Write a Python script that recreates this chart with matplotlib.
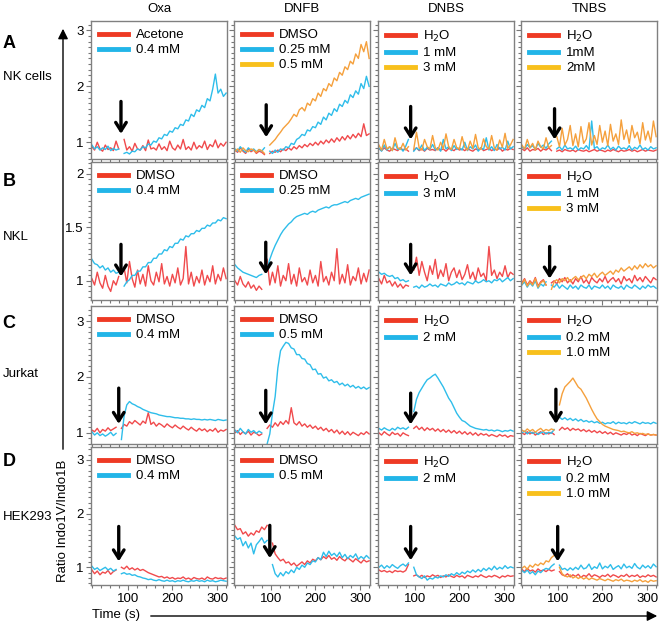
import numpy as np
import matplotlib
matplotlib.use("Agg")
import matplotlib.pyplot as plt
from matplotlib.lines import Line2D
from matplotlib.patches import FancyArrowPatch
from matplotlib.ticker import MultipleLocator

plt.rcParams["font.family"] = ["Liberation Sans", "DejaVu Sans"]

nan = np.nan

# ── labels ────────────────────────────────────────────────────────────────────
compounds = ["Oxa", "DNFB", "DNBS", "TNBS"]
row_letters = ["A", "B", "C", "D"]
cell_lines = ["NK cells", "NKL", "Jurkat", "HEK293"]

legend_labels = [
    [["Acetone", "0.4 mM"], ["DMSO", "0.25 mM", "0.5 mM"],
     ["H$_2$O", "1 mM", "3 mM"], ["H$_2$O", "1mM", "2mM"]],
    [["DMSO", "0.4 mM"], ["DMSO", "0.25 mM"],
     ["H$_2$O", "3 mM"], ["H$_2$O", "1 mM", "3 mM"]],
    [["DMSO", "0.4 mM"], ["DMSO", "0.5 mM"],
     ["H$_2$O", "2 mM"], ["H$_2$O", "0.2 mM", "1.0 mM"]],
    [["DMSO", "0.4 mM"], ["DMSO", "0.5 mM"],
     ["H$_2$O", "2 mM"], ["H$_2$O", "0.2 mM", "1.0 mM"]],
]

# time axis of every trace (s), samples spread evenly over it
T_START, T_END = 20, 320

# ── A : NK cells ──────────────────────────────────────────────────────────────
a_oxa_red = [0.92, 0.86, 1.00, 0.88, 0.84, 0.95, 0.87, 0.90, 0.85, 1.02,
             0.88, nan, 1.05, 0.86, 0.92, 0.84, 0.98, 0.88, 0.86, 0.94,
             0.85, 1.04, 0.88, 0.90, 0.86, 0.97, 0.87, 0.92, 0.85, 1.02,
             0.90, 0.86, 0.95, 0.88, 1.05, 0.87, 0.92, 0.86, 1.00, 0.88,
             0.94, 0.90, 1.02, 0.87, 0.96, 0.92, 1.04, 0.90, 0.98, 0.93, 1.00]
a_oxa_blue = [0.95, 0.88, 0.92, 0.86, 0.90, 0.87, 0.93, 0.85, 0.89, 0.86,
              0.88, nan, 0.80, 0.82, 0.79, 0.84, 0.83, 0.88, 0.86, 0.92,
              0.90, 0.97, 0.95, 1.02, 1.00, 1.08, 1.06, 1.14, 1.12, 1.20,
              1.18, 1.26, 1.24, 1.32, 1.30, 1.40, 1.38, 1.50, 1.46, 1.58,
              1.55, 1.66, 1.62, 1.78, 1.74, 1.95, 2.22, 1.88, 1.95, 1.82, 1.88]

a_dnfb_red = [0.86, 0.82, 0.90, 0.84, 0.80, 0.88, 0.83, 0.86, 0.80, 0.84,
              0.82, 0.78, nan, 0.80, 0.84, 0.82, 0.86, 0.83, 0.88, 0.85,
              0.90, 0.86, 0.92, 0.88, 0.94, 0.90, 0.96, 0.92, 0.98, 0.94,
              1.00, 0.95, 1.02, 0.97, 1.04, 0.99, 1.06, 1.00, 1.08, 1.02,
              1.10, 1.04, 1.12, 1.06, 1.14, 1.08, 1.16, 1.10, 1.33, 1.12, 1.15]
a_dnfb_blue = [0.88, 0.84, 0.92, 0.86, 0.82, 0.90, 0.85, 0.88, 0.83, 0.87,
               0.84, 0.90, nan, 0.84, 0.80, 0.86, 0.82, 0.88, 0.86, 0.92,
               0.90, 0.98, 0.96, 1.05, 1.08, 1.14, 1.12, 1.22, 1.20, 1.28,
               1.26, 1.36, 1.32, 1.45, 1.40, 1.52, 1.48, 1.60, 1.55, 1.68,
               1.64, 1.75, 1.70, 1.85, 1.80, 1.92, 1.86, 2.05, 1.96, 2.18, 2.00]
a_dnfb_orange = [0.84, 0.88, 0.82, 0.90, 0.85, 0.83, 0.88, 0.86, 0.82, 0.87,
                 0.85, 0.80, nan, 0.95, 1.00, 1.05, 1.12, 1.18, 1.25, 1.30,
                 1.35, 1.42, 1.50, 1.46, 1.58, 1.62, 1.56, 1.70, 1.66, 1.78,
                 1.74, 1.88, 1.82, 1.96, 1.92, 2.05, 2.00, 2.15, 2.10, 2.25,
                 2.20, 2.35, 2.30, 2.45, 2.40, 2.58, 2.50, 2.75, 2.62, 2.80, 2.50]

a_dnbs_red = [0.88, 0.85, 0.90, 0.86, 0.84, 0.89, 0.87, 0.85, 0.90, 0.86,
              0.88, 0.84, nan, 0.86, 0.90, 0.85, 0.88, 0.84, 0.89, 0.86,
              0.87, 0.85, 0.90, 0.86, 0.88, 0.84, 0.89, 0.87, 0.85, 0.90,
              0.86, 0.88, 0.85, 0.89, 0.86, 0.84, 0.88, 0.86, 0.90, 0.85,
              0.87, 0.89, 0.85, 0.88, 0.86, 0.90, 0.84, 0.88, 0.86, 0.89, 0.87]
a_dnbs_blue = [0.90, 0.84, 0.95, 0.86, 0.92, 0.85, 0.98, 0.87, 0.90, 0.84,
               0.93, 1.05, nan, 0.84, 0.90, 0.86, 0.95, 0.85, 0.91, 0.87,
               0.96, 0.86, 0.90, 0.84, 1.05, 0.88, 0.92, 0.85, 0.94, 0.87,
               0.90, 0.86, 1.00, 0.85, 0.92, 0.88, 0.95, 0.84, 0.90, 0.87,
               1.08, 0.86, 0.92, 0.85, 0.96, 0.88, 0.91, 0.86, 1.02, 0.88, 0.92]
a_dnbs_orange = [0.95, 0.86, 1.05, 0.88, 0.92, 0.85, 1.08, 0.90, 0.87, 0.98,
                 0.86, 0.92, nan, 0.88, 1.18, 0.90, 0.86, 1.05, 0.92, 0.88,
                 1.12, 0.90, 0.86, 1.00, 0.88, 1.15, 0.92, 0.87, 1.05, 0.90,
                 0.88, 1.10, 0.91, 0.86, 1.02, 0.89, 1.14, 0.90, 0.87, 1.06,
                 0.92, 0.88, 1.12, 0.90, 0.86, 1.04, 0.91, 1.16, 0.89, 0.95, 1.05]

a_tnbs_red = [0.88, 0.85, 0.90, 0.84, 0.87, 0.86, 0.89, 0.84, 0.88, 0.86,
              0.90, 0.85, nan, 0.84, 0.86, 0.83, 0.87, 0.85, 0.84, 0.86,
              0.83, 0.87, 0.85, 0.84, 0.86, 0.83, 0.85, 0.87, 0.84, 0.86,
              0.85, 0.83, 0.86, 0.84, 0.87, 0.85, 0.83, 0.86, 0.84, 0.85,
              0.87, 0.84, 0.86, 0.83, 0.85, 0.87, 0.84, 0.86, 0.85, 0.84, 0.86]
a_tnbs_blue = [0.92, 0.88, 0.96, 0.90, 0.94, 0.87, 0.98, 0.91, 0.95, 0.89,
               0.97, 1.02, nan, 0.88, 0.92, 0.86, 0.95, 0.88, 0.90, 0.87,
               0.93, 0.86, 0.90, 0.88, 0.94, 0.87, 1.38, 0.89, 0.92, 0.86,
               0.90, 0.88, 0.95, 0.87, 0.91, 0.86, 0.93, 0.88, 0.90, 0.87,
               0.94, 0.86, 0.91, 0.88, 0.95, 0.87, 0.90, 0.86, 0.92, 0.88, 0.90]
a_tnbs_orange = [0.95, 0.88, 1.05, 0.90, 0.98, 0.86, 1.02, 0.92, 0.88, 1.08,
                 0.90, 0.94, nan, 1.10, 0.92, 1.25, 0.95, 1.05, 1.30, 0.94,
                 1.15, 0.92, 1.28, 0.98, 1.06, 1.35, 0.95, 1.12, 0.96, 1.30,
                 1.00, 1.20, 0.94, 1.32, 1.02, 1.15, 0.96, 1.40, 1.05, 1.22,
                 0.98, 1.30, 1.08, 1.18, 0.97, 1.35, 1.04, 1.20, 1.00, 1.38, 1.10]

# ── B : NKL ───────────────────────────────────────────────────────────────────
b_oxa_red = [1.02, 0.96, 1.08, 0.98, 0.93, 1.05, 0.95, 0.90, 1.00, 0.96,
             1.04, nan, 1.12, 0.98, 1.18, 1.02, 0.94, 1.10, 0.97, 1.06,
             0.95, 1.14, 1.00, 0.96, 1.08, 0.99, 1.16, 0.97, 1.04, 0.95,
             1.06, 0.98, 1.12, 0.96, 1.02, 1.32, 0.97, 1.08, 0.95, 1.04,
             0.98, 1.10, 0.96, 1.05, 0.99, 1.14, 0.97, 1.06, 1.00, 1.12, 1.02]
b_oxa_blue = [1.20, 1.16, 1.15, 1.12, 1.14, 1.10, 1.12, 1.08, 1.10, 1.07,
              1.08, nan, 0.95, 0.99, 1.01, 1.05, 1.05, 1.09, 1.09, 1.13,
              1.13, 1.17, 1.17, 1.21, 1.21, 1.25, 1.25, 1.29, 1.28, 1.32,
              1.31, 1.35, 1.35, 1.39, 1.38, 1.42, 1.41, 1.44, 1.44, 1.47,
              1.46, 1.49, 1.49, 1.52, 1.51, 1.54, 1.54, 1.57, 1.56, 1.59, 1.58]

b_dnfb_red = [1.00, 0.96, 1.04, 0.97, 0.94, 0.99, 0.93, 0.96, 0.91, 0.95,
              0.92, nan, 1.20, 0.96, 1.08, 0.98, 1.14, 0.95, 1.05, 1.00,
              1.16, 0.97, 1.06, 0.95, 1.12, 0.99, 1.03, 0.96, 1.10, 0.98,
              1.05, 0.95, 1.18, 0.99, 1.04, 0.96, 1.08, 1.00, 1.30, 0.97,
              1.06, 0.98, 1.15, 0.96, 1.04, 1.00, 1.12, 0.97, 1.07, 0.99, 1.10]
b_dnfb_blue = [1.15, 1.12, 1.10, 1.08, 1.07, 1.06, 1.05, 1.04, 1.03, 1.05,
               1.06, nan, 1.12, 1.20, 1.27, 1.33, 1.38, 1.43, 1.47, 1.50,
               1.53, 1.55, 1.58, 1.60, 1.61, 1.62, 1.63, 1.62, 1.64, 1.65,
               1.64, 1.66, 1.67, 1.68, 1.69, 1.68, 1.70, 1.71, 1.71, 1.72,
               1.73, 1.74, 1.73, 1.75, 1.76, 1.77, 1.76, 1.78, 1.79, 1.80, 1.81]

b_dnbs_red = [1.02, 0.97, 1.05, 0.98, 1.00, 0.95, 0.99, 0.94, 0.97, 0.93,
              0.96, 0.95, nan, 1.10, 1.22, 1.05, 1.18, 1.08, 1.00, 1.14,
              1.06, 1.20, 1.02, 1.10, 1.04, 1.16, 1.00, 1.08, 1.12, 1.03,
              1.10, 1.01, 1.06, 1.15, 1.02, 1.08, 1.00, 1.12, 1.04, 1.07,
              1.00, 1.32, 1.05, 1.10, 1.02, 1.08, 1.04, 1.14, 1.03, 1.08, 1.06]
b_dnbs_blue = [1.08, 1.06, 1.07, 1.05, 1.04, 1.05, 1.02, 1.03, 1.00, 1.01,
               0.99, 1.00, nan, 0.94, 0.95, 0.93, 0.96, 0.94, 0.95, 0.97,
               0.95, 0.96, 0.94, 0.97, 0.96, 0.95, 0.98, 0.96, 0.97, 0.99,
               0.97, 0.98, 0.96, 0.99, 0.98, 0.97, 1.00, 0.98, 0.99, 1.01,
               0.99, 1.00, 0.98, 1.01, 1.00, 1.02, 0.99, 1.01, 1.03, 1.00, 1.02]

b_tnbs_red = [0.98, 1.02, 0.96, 1.00, 0.97, 1.03, 0.95, 0.99, 1.01, 0.96,
              nan, 0.98, 1.00, 0.97, 1.02, 0.99, 1.03, 0.98, 1.01, 0.97,
              1.02, 0.99, 1.04, 0.98, 1.01, 0.97, 1.03, 1.00, 0.98, 1.02,
              0.99, 1.04, 0.98, 1.01, 1.03, 0.99, 1.02, 0.97, 1.04, 1.00,
              1.02, 0.98, 1.05, 1.00, 1.03, 0.99, 1.04, 1.01, 0.98, 1.03, 1.01]
b_tnbs_blue = [0.96, 0.99, 0.94, 0.98, 0.95, 1.00, 0.93, 0.97, 0.95, 0.99,
               nan, 0.96, 0.94, 0.97, 0.93, 0.96, 0.94, 0.92, 0.96, 0.93,
               0.95, 0.92, 0.96, 0.94, 0.93, 0.96, 0.92, 0.95, 0.94, 0.93,
               0.96, 0.93, 0.95, 0.92, 0.96, 0.94, 0.93, 0.95, 0.92, 0.96,
               0.94, 0.93, 0.96, 0.94, 0.92, 0.95, 0.93, 0.96, 0.94, 0.95, 0.93]
b_tnbs_orange = [0.97, 1.01, 0.95, 0.99, 0.96, 1.02, 0.94, 0.98, 1.00, 0.96,
                 nan, 0.92, 0.99, 1.01, 0.98, 1.02, 1.00, 1.03, 0.99, 1.02,
                 1.04, 1.01, 1.03, 1.05, 1.02, 1.06, 1.04, 1.07, 1.03, 1.06,
                 1.08, 1.05, 1.07, 1.09, 1.06, 1.10, 1.08, 1.12, 1.09, 1.11,
                 1.13, 1.10, 1.14, 1.11, 1.15, 1.12, 1.16, 1.13, 1.15, 1.12, 1.14]

# ── C : Jurkat ────────────────────────────────────────────────────────────────
c_oxa_red = [1.05, 1.02, 1.08, 1.00, 1.06, 1.03, 1.09, 1.04, 1.07, 1.10,
             nan, 1.08, 1.15, 1.12, 1.20, 1.16, 1.22, 1.18, 1.14, 1.21,
             1.17, 1.36, 1.15, 1.19, 1.12, 1.17, 1.14, 1.10, 1.16, 1.12,
             1.09, 1.14, 1.10, 1.07, 1.12, 1.08, 1.05, 1.10, 1.06, 1.03,
             1.08, 1.04, 1.07, 1.02, 1.06, 1.03, 1.08, 1.01, 1.05, 1.03, 1.06]
c_oxa_blue = [1.02, 0.96, 1.00, 0.95, 0.98, 0.94, 0.97, 1.01, 0.95, 0.99,
              nan, 0.88, 1.30, 1.50, 1.56, 1.52, 1.50, 1.47, 1.45, 1.42,
              1.40, 1.38, 1.36, 1.35, 1.34, 1.32, 1.31, 1.30, 1.29, 1.29,
              1.28, 1.27, 1.27, 1.26, 1.26, 1.25, 1.25, 1.24, 1.25, 1.24,
              1.24, 1.23, 1.24, 1.23, 1.24, 1.23, 1.22, 1.24, 1.23, 1.22, 1.23]

c_dnfb_red = [1.00, 1.04, 0.97, 1.02, 0.98, 1.03, 0.96, 1.01, 0.99, 0.95,
              0.98, nan, 1.08, 1.14, 1.10, 1.18, 1.12, 1.20, 1.15, 1.22,
              1.16, 1.45, 1.18, 1.14, 1.20, 1.12, 1.16, 1.10, 1.14, 1.08,
              1.12, 1.06, 1.10, 1.04, 1.08, 1.02, 1.06, 1.00, 1.05, 0.98,
              1.03, 0.97, 1.02, 0.96, 1.01, 0.98, 0.95, 1.00, 0.97, 1.02, 0.98]
c_dnfb_blue = [1.05, 1.00, 1.08, 1.02, 0.98, 1.06, 1.01, 1.04, 0.99, 1.03,
               1.00, nan, 0.80, 0.98, 1.35, 1.65, 2.16, 2.47, 2.55, 2.62,
               2.60, 2.52, 2.50, 2.40, 2.40, 2.33, 2.32, 2.24, 2.22, 2.13,
               2.14, 2.05, 2.06, 1.98, 2.00, 1.93, 1.95, 1.90, 1.92, 1.86,
               1.89, 1.84, 1.87, 1.82, 1.85, 1.80, 1.83, 1.79, 1.82, 1.78, 1.81]

c_dnbs_red = [1.00, 0.96, 1.02, 0.98, 0.95, 1.01, 0.97, 0.99, 0.94, 1.00,
              0.97, 0.95, nan, 1.08, 1.12, 1.06, 1.10, 1.04, 1.09, 1.05,
              1.08, 1.03, 1.07, 1.02, 1.06, 1.01, 1.05, 1.00, 1.04, 0.99,
              1.03, 0.98, 1.02, 0.97, 1.01, 0.96, 1.00, 0.95, 0.99, 0.96,
              0.98, 0.94, 0.97, 0.95, 0.93, 0.97, 0.94, 0.96, 0.92, 0.95, 0.94]
c_dnbs_blue = [1.08, 1.05, 1.09, 1.06, 1.04, 1.08, 1.05, 1.10, 1.07, 1.09,
               1.06, 1.10, nan, 1.38, 1.60, 1.72, 1.80, 1.88, 1.95, 1.98,
               2.02, 2.05, 1.98, 1.90, 1.82, 1.72, 1.62, 1.55, 1.45, 1.35,
               1.28, 1.22, 1.20, 1.16, 1.12, 1.10, 1.08, 1.07, 1.06, 1.05,
               1.06, 1.04, 1.05, 1.03, 1.05, 1.04, 1.02, 1.04, 1.03, 1.05, 1.03]

c_tnbs_red = [1.00, 0.97, 1.02, 0.98, 1.01, 0.96, 0.99, 1.02, 0.97, 1.00,
              0.98, 1.01, 0.97, nan, 1.05, 1.10, 1.06, 1.09, 1.04, 1.08,
              1.05, 1.07, 1.03, 1.06, 1.02, 1.05, 1.01, 1.04, 1.00, 1.03,
              0.99, 1.02, 0.98, 1.01, 0.97, 1.00, 0.98, 0.96, 0.99, 0.97,
              1.00, 0.96, 0.98, 0.95, 0.99, 0.97, 0.95, 0.98, 0.96, 0.97, 0.96]
c_tnbs_blue = [1.00, 1.03, 0.98, 1.02, 0.99, 1.01, 0.97, 1.00, 1.02, 0.98,
               1.01, 0.99, 1.06, nan, 1.28, 1.24, 1.27, 1.23, 1.26, 1.22,
               1.25, 1.21, 1.24, 1.20, 1.22, 1.19, 1.21, 1.18, 1.20, 1.17,
               1.19, 1.16, 1.18, 1.17, 1.20, 1.16, 1.19, 1.17, 1.18, 1.16,
               1.19, 1.17, 1.20, 1.18, 1.16, 1.19, 1.17, 1.18, 1.16, 1.19, 1.17]
c_tnbs_orange = [1.05, 1.02, 1.07, 1.03, 1.06, 1.01, 1.05, 1.08, 1.03, 1.06,
                 1.04, 1.07, 1.05, nan, 1.50, 1.70, 1.82, 1.87, 1.92, 1.98,
                 1.90, 1.82, 1.78, 1.70, 1.62, 1.52, 1.42, 1.33, 1.25, 1.20,
                 1.15, 1.12, 1.10, 1.08, 1.06, 1.05, 1.04, 1.02, 1.03, 1.01,
                 1.00, 1.02, 0.99, 1.00, 0.98, 0.99, 0.97, 0.98, 0.96, 0.97, 0.96]

# ── D : HEK293 ────────────────────────────────────────────────────────────────
d_oxa_red = [0.95, 0.88, 0.93, 0.86, 0.91, 0.89, 0.94, 0.87, 0.92, 0.95,
             nan, 1.00, 0.97, 1.02, 0.96, 0.99, 0.95, 0.98, 0.94, 0.96,
             0.93, 0.90, 0.88, 0.86, 0.84, 0.82, 0.83, 0.80, 0.82, 0.79,
             0.81, 0.78, 0.80, 0.79, 0.82, 0.78, 0.80, 0.77, 0.81, 0.79,
             0.78, 0.80, 0.77, 0.82, 0.79, 0.78, 0.81, 0.79, 0.80, 0.78, 0.80]
d_oxa_blue = [1.02, 0.96, 0.99, 0.94, 0.97, 1.00, 0.95, 0.98, 0.93, 0.96,
              nan, 0.88, 0.90, 0.87, 0.88, 0.85, 0.86, 0.83, 0.82, 0.80,
              0.79, 0.77, 0.78, 0.76, 0.75, 0.77, 0.75, 0.74, 0.76, 0.74,
              0.75, 0.73, 0.75, 0.74, 0.76, 0.74, 0.73, 0.75, 0.74, 0.76,
              0.74, 0.75, 0.73, 0.76, 0.74, 0.75, 0.73, 0.74, 0.76, 0.75, 0.74]

d_dnfb_red = [1.78, 1.70, 1.72, 1.62, 1.66, 1.58, 1.64, 1.60, 1.68, 1.65,
              1.75, 1.70, 1.78, nan, 1.45, 1.25, 1.18, 1.12, 1.15, 1.08,
              1.10, 1.04, 1.08, 1.02, 1.06, 1.10, 1.05, 1.12, 1.08, 1.15,
              1.12, 1.18, 1.14, 1.20, 1.16, 1.22, 1.15, 1.18, 1.13, 1.20,
              1.15, 1.12, 1.18, 1.14, 1.10, 1.16, 1.12, 1.08, 1.14, 1.10, 1.12]
d_dnfb_blue = [1.58, 1.52, 1.55, 1.40, 1.48, 1.36, 1.45, 1.25, 1.42, 1.48,
               1.55, 1.45, 1.50, nan, 1.05, 0.88, 0.82, 0.90, 0.84, 0.92,
               0.88, 0.95, 0.90, 1.00, 0.96, 1.04, 1.00, 1.08, 1.05, 1.12,
               1.10, 1.18, 1.14, 1.28, 1.20, 1.30, 1.22, 1.26, 1.20, 1.28,
               1.18, 1.24, 1.16, 1.22, 1.18, 1.25, 1.15, 1.20, 1.16, 1.22, 1.17]

d_dnbs_red = [0.95, 0.92, 0.94, 0.91, 0.93, 0.90, 0.94, 0.92, 0.93, 0.91,
              0.94, 1.05, nan, 0.84, 0.86, 0.82, 0.85, 0.81, 0.84, 0.82,
              0.86, 0.83, 0.85, 0.81, 0.84, 0.82, 0.86, 0.83, 0.81, 0.85,
              0.82, 0.84, 0.80, 0.85, 0.83, 0.81, 0.84, 0.82, 0.86, 0.83,
              0.81, 0.84, 0.82, 0.85, 0.83, 0.80, 0.84, 0.82, 0.85, 0.83, 0.84]
d_dnbs_blue = [1.00, 1.04, 0.98, 1.03, 0.99, 1.05, 1.01, 0.98, 1.03, 1.06,
               1.02, 1.08, nan, 1.00, 0.86, 0.82, 0.79, 0.84, 0.76, 0.80,
               0.78, 0.82, 0.80, 0.84, 0.82, 0.86, 0.83, 0.88, 0.85, 0.90,
               0.86, 0.91, 0.88, 0.93, 0.90, 0.95, 0.91, 0.96, 0.92, 0.98,
               0.94, 0.99, 0.95, 1.02, 0.96, 1.00, 0.97, 1.03, 0.98, 1.01, 0.99]

d_tnbs_red = [0.96, 0.92, 0.98, 0.93, 0.95, 0.91, 0.97, 0.93, 0.95, 0.92,
              0.96, 0.93, 0.95, nan, 0.92, 0.86, 0.84, 0.88, 0.82, 0.86,
              0.83, 0.87, 0.81, 0.85, 0.83, 0.88, 0.82, 0.86, 0.84, 0.81,
              0.85, 0.83, 0.87, 0.82, 0.86, 0.84, 0.81, 0.85, 0.83, 0.87,
              0.82, 0.85, 0.83, 0.86, 0.81, 0.84, 0.82, 0.86, 0.83, 0.85, 0.82]
d_tnbs_blue = [0.94, 0.90, 0.95, 0.88, 0.92, 0.86, 0.93, 0.90, 0.95, 0.98,
               0.96, 1.02, 1.06, nan, 1.04, 0.96, 0.98, 0.94, 0.99, 0.95,
               1.00, 0.96, 1.04, 0.97, 0.99, 1.06, 0.96, 1.01, 0.98, 1.08,
               0.97, 1.02, 0.99, 1.05, 0.96, 1.00, 1.03, 0.97, 1.06, 0.99,
               1.02, 0.98, 1.07, 1.00, 0.97, 1.04, 0.99, 1.03, 0.98, 1.06, 1.01]
d_tnbs_orange = [0.98, 1.02, 0.96, 1.04, 1.00, 1.06, 1.03, 1.08, 1.05, 1.12,
                 1.10, 1.18, 1.22, nan, 1.00, 0.88, 0.84, 0.82, 0.86, 0.80,
                 0.83, 0.79, 0.82, 0.78, 0.81, 0.77, 0.80, 0.78, 0.76, 0.79,
                 0.77, 0.75, 0.78, 0.76, 0.74, 0.77, 0.75, 0.78, 0.74, 0.76,
                 0.75, 0.73, 0.76, 0.74, 0.77, 0.73, 0.75, 0.72, 0.76, 0.74, 0.75]

traces = [
    [[a_oxa_red, a_oxa_blue], [a_dnfb_red, a_dnfb_blue, a_dnfb_orange],
     [a_dnbs_red, a_dnbs_blue, a_dnbs_orange], [a_tnbs_red, a_tnbs_blue, a_tnbs_orange]],
    [[b_oxa_red, b_oxa_blue], [b_dnfb_red, b_dnfb_blue],
     [b_dnbs_red, b_dnbs_blue], [b_tnbs_red, b_tnbs_blue, b_tnbs_orange]],
    [[c_oxa_red, c_oxa_blue], [c_dnfb_red, c_dnfb_blue],
     [c_dnbs_red, c_dnbs_blue], [c_tnbs_red, c_tnbs_blue, c_tnbs_orange]],
    [[d_oxa_red, d_oxa_blue], [d_dnfb_red, d_dnfb_blue],
     [d_dnbs_red, d_dnbs_blue], [d_tnbs_red, d_tnbs_blue, d_tnbs_orange]],
]

# time of compound addition (s) and arrow extent (ratio units)
add_time = [[85, 90, 91, 93], [85, 89, 91, 82], [80, 89, 91, 96], [80, 98, 91, 100]]
arrow_top = [[1.73, 1.67, 1.64, 1.60], [1.34, 1.36, 1.34, 1.32],
             [1.80, 1.76, 1.71, 1.78], [1.76, 1.78, 1.76, 1.76]]
arrow_tip = [[1.15, 1.09, 1.05, 1.05], [1.04, 1.06, 1.05, 1.02],
             [1.16, 1.15, 1.15, 1.16], [1.11, 1.17, 1.13, 1.11]]

# ── styling ───────────────────────────────────────────────────────────────────
line_colors = ["#f04a4c", "#2ebdea", "#f5a03c"]
legend_colors = ["#ee3a24", "#22b5e8", "#f8c01c"]
row_ylim = [(0.70, 3.17), (0.82, 2.11), (0.80, 3.27), (0.67, 3.24)]
row_yticks = [[1, 2, 3], [1, 1.5, 2], [1, 2, 3], [1, 2, 3]]
row_yticklabels = [["1", "2", "3"], ["1", "1.5", "2"], ["1", "2", "3"], ["1", "2", "3"]]
row_yminor = [0.1, 0.05, 0.1, 0.1]

W, H = 661, 622
col_left = [91, 234, 378, 521]
row_top = [21, 162, 306, 447]
pw, ph = 136, 138

fig = plt.figure(figsize=(W / 100, H / 100), dpi=100)

for r in range(4):
    for c in range(4):
        ax = fig.add_axes([col_left[c] / W, 1 - (row_top[r] + ph) / H, pw / W, ph / H])
        for k, vals in enumerate(traces[r][c]):
            t = np.linspace(T_START, T_END, len(vals))
            ax.plot(t, vals, color=line_colors[k], lw=1.0)
        ax.set_xlim(18, 322)
        ax.set_ylim(*row_ylim[r])
        ax.set_xticks([100, 200, 300])
        ax.xaxis.set_minor_locator(MultipleLocator(20))
        ax.set_yticks(row_yticks[r])
        ax.yaxis.set_minor_locator(MultipleLocator(row_yminor[r]))
        ax.tick_params(which="both", direction="out", color="#777777", width=0.8,
                       labelsize=9.5, pad=2)
        ax.tick_params(which="major", length=3.5)
        ax.tick_params(which="minor", length=2)
        if c == 0:
            ax.set_yticklabels(row_yticklabels[r])
        else:
            ax.set_yticklabels([])
        if r < 3:
            ax.set_xticklabels([])
        for sp in ax.spines.values():
            sp.set_color("#808080")
            sp.set_linewidth(1)

        handles = [Line2D([], [], color=legend_colors[k], lw=3.5)
                   for k in range(len(legend_labels[r][c]))]
        ax.legend(handles, legend_labels[r][c], loc="upper left", frameon=False,
                  fontsize=9.5, handlelength=2.2, handletextpad=0.6,
                  labelspacing=0.22, borderaxespad=0.2)

        ax.annotate("", xy=(add_time[r][c], arrow_tip[r][c]),
                    xytext=(add_time[r][c], arrow_top[r][c]),
                    arrowprops=dict(arrowstyle="->,head_length=0.6,head_width=0.38",
                                    lw=2.4, color="black", shrinkA=0, shrinkB=0))

        if r == 0:
            fig.text((col_left[c] + pw / 2) / W, 1 - 9 / H, compounds[c],
                     ha="center", va="center", fontsize=9.5)

# row letters and cell line names
letter_y = [43, 182, 323, 462]
name_y = [77, 237, 374, 517]
for r in range(4):
    fig.text(9 / W, 1 - letter_y[r] / H, row_letters[r], fontsize=13,
             fontweight="bold", ha="center", va="center")
    fig.text(3 / W, 1 - name_y[r] / H, cell_lines[r], fontsize=9.5,
             ha="left", va="center")

# y-axis arrow with label
fig.text(63 / W, 1 - 521 / H, "Ratio Indo1V/Indo1B", rotation=90,
         ha="center", va="center", fontsize=9.5)
fig.add_artist(FancyArrowPatch((63 / W, 1 - 452 / H), (63 / W, 1 - 26 / H),
                               transform=fig.transFigure, arrowstyle="-|>",
                               mutation_scale=15, lw=1.0, color="black"))

# x-axis arrow with label
fig.text(92 / W, 1 - 615 / H, "Time (s)", ha="left", va="center", fontsize=9.5)
fig.add_artist(FancyArrowPatch((148 / W, 1 - 616 / H), (660 / W, 1 - 616 / H),
                               transform=fig.transFigure, arrowstyle="-|>",
                               mutation_scale=15, lw=1.0, color="black"))

fig.savefig("out.png", dpi=100)
